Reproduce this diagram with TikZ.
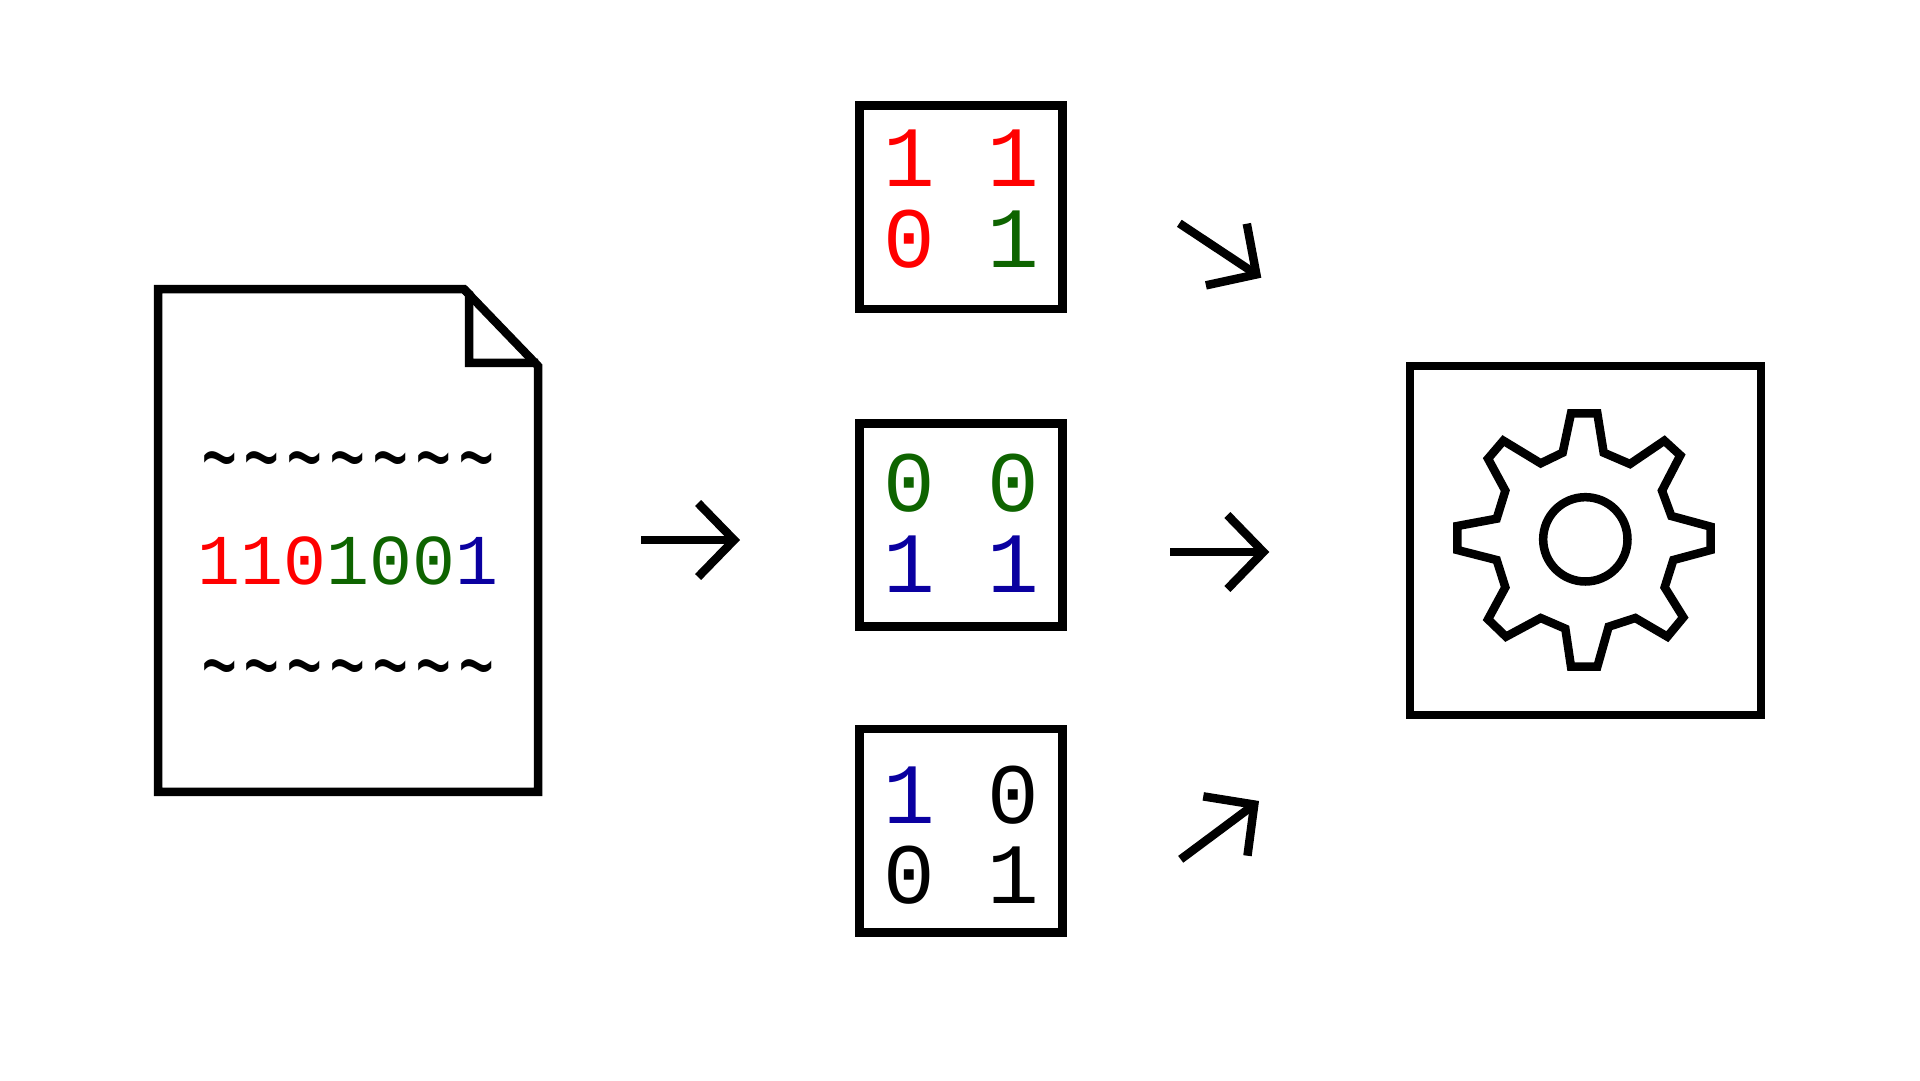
\documentclass[tikz,border=0pt]{standalone}
\usepackage{fontspec}
\usepackage{graphicx}
\setmonofont{Liberation Mono}
\usetikzlibrary{arrows.meta}
\definecolor{dr}{HTML}{FF0000}
\definecolor{dg}{HTML}{0E6400}
\definecolor{db}{HTML}{0A00A0}
\tikzset{
  ink/.style={draw=black,line width=8.5pt,line join=miter,miter limit=10},
  sbox/.style={ink,rectangle,inner sep=0pt,minimum width=203.4pt,minimum height=203.4pt},
  bit/.style={inner sep=0pt,outer sep=0pt,anchor=base,font=\ttfamily\fontsize{86pt}{86pt}\selectfont},
  doc/.style={inner sep=0pt,outer sep=0pt,anchor=base,font=\ttfamily\fontsize{71.5pt}{72pt}\selectfont},
  conn/.style={line width=8.5pt,-{Straight Barb[length=36pt,width=74pt,line width=8.5pt,sharp]}}
}
\newcommand{\tld}{\makebox[42.9pt]{\scalebox{0.85}[1.45]{\textasciitilde}}}
\newcommand{\tildes}{\tld\tld\tld\tld\tld\tld\tld}
\begin{document}
\begin{tikzpicture}[x=1pt,y=-1pt]
\useasboundingbox[fill=white] (0,0) rectangle (1920,1080);
% document
\draw[ink] (158,289.2) -- (464,289.2) -- (538,366) -- (538,791.8) -- (158,791.8) -- cycle;
\draw[ink] (464,289.2) -- (469,294) -- (469,362.8) -- (538,362.8);
\node[doc] (t1) at (348,492.5) {\tildes};
\node[doc] (d) at (348,584) {\textcolor{dr}{110}\textcolor{dg}{100}\textcolor{db}{1}};
\node[doc] (t2) at (348,700.5) {\tildes};
% boxes
\node[sbox] (b1) at (961,207.3) {};
\node[sbox] (b2) at (961,525) {};
\node[sbox] (b3) at (961,830.8) {};
\node[bit,dr] (b1a) at (909,186.7) {1};
\node[bit,dr] (b1b) at (1013,186.7) {1};
\node[bit,dr] (b1c) at (909,267.7) {0};
\node[bit,dg] (b1d) at (1013,267.7) {1};
\node[bit,dg] (b2a) at (909,511) {0};
\node[bit,dg] (b2b) at (1013,511) {0};
\node[bit,db] (b2c) at (909,592) {1};
\node[bit,db] (b2d) at (1013,592) {1};
\node[bit,db] (b3a) at (909,823) {1};
\node[bit] (b3b) at (1013,823) {0};
\node[bit] (b3c) at (909,903.7) {0};
\node[bit] (b3d) at (1013,903.7) {1};
% gear box
\node[ink,rectangle,inner sep=0pt,minimum width=351pt,minimum height=349pt] (g) at (1585.5,540.5) {};
\begin{scope}[shift={(1400,350)},x=0.33333pt,y=-0.33333pt]
\draw[ink] (513,190)--(592,190)--(611,308)--(690,342)--(793,272)--(841,316)--(786,422)--(814,498)--(932,530)--(932,600)--(820,630)--(794,712)--(850,802)--(802,860)--(706,804)--(626,830)--(592,950)--(513,950)--(496,836)--(422,804)--(318,860)--(264,808)--(316,712)--(290,630)--(172,600)--(172,528)--(290,506)--(316,422)--(264,326)--(310,272)--(422,340)--(488,308)--cycle;
\draw[ink] (556,568) circle[radius=126.5];
\end{scope}
% connectors
\coordinate (a1s) at (641,540); \coordinate (a1e) at (740,540);
\coordinate (a2s) at (1170,552); \coordinate (a2e) at (1269.3,552);
\coordinate (a3s) at (1179.3,223.3); \coordinate (a3e) at (1261.3,277.7);
\coordinate (a4s) at (1180.7,859.3); \coordinate (a4e) at (1259,801);
\draw[conn] (a1s) -- (a1e);
\draw[conn] (a2s) -- (a2e);
\draw[conn] (a3s) -- (a3e);
\draw[conn] (a4s) -- (a4e);
\end{tikzpicture}
\end{document}
